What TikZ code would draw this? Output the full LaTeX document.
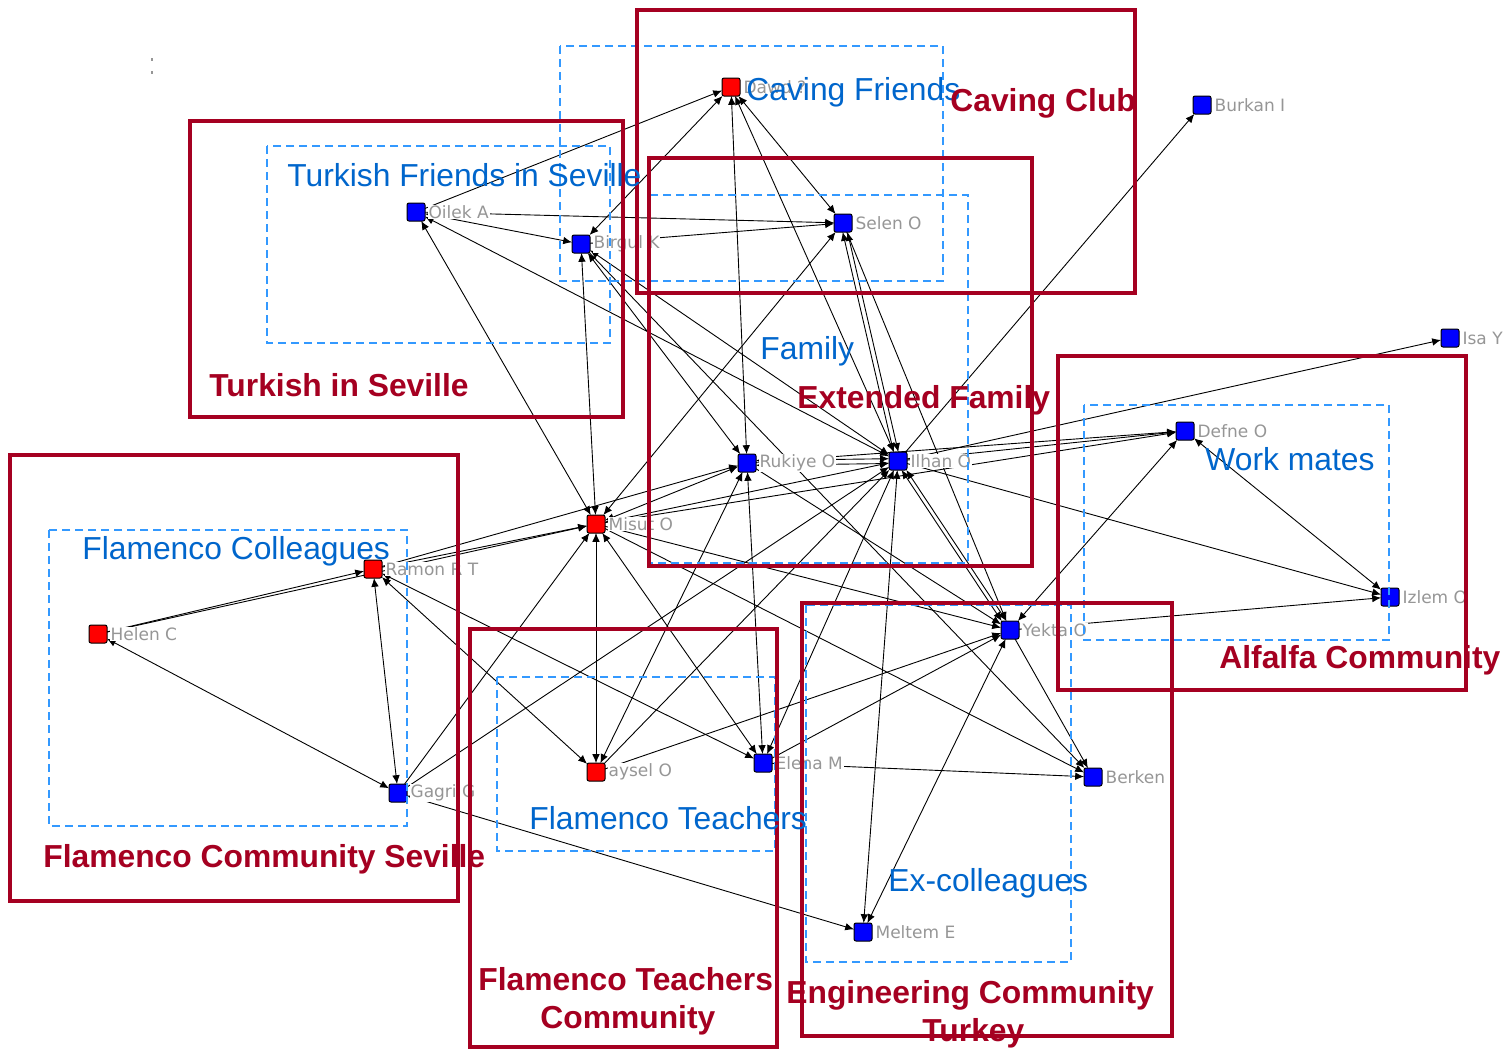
\documentclass[tikz,border=0pt]{standalone}
\usepackage{fontspec}
\setmainfont{Liberation Sans}
\newfontfamily\nlfont{DejaVu Sans}
\usetikzlibrary{arrows.meta}
\definecolor{crimson}{RGB}{165,0,33}
\definecolor{sky}{RGB}{51,153,255}
\definecolor{grplab}{RGB}{0,102,204}
\definecolor{nlgray}{RGB}{150,150,150}
\pgfdeclarelayer{paper}
\pgfdeclarelayer{edges}
\pgfdeclarelayer{frames}
\pgfsetlayers{paper,edges,main,frames}
\tikzset{
  actor/.style={draw=black, line width=0.5pt, rounded corners=1pt, minimum size=9pt, inner sep=0pt, outer sep=0pt},
  fem/.style={actor, fill=red},
  mal/.style={actor, fill=blue},
  nl/.style={font=\nlfont\fontsize{8.5}{9}\selectfont, text=nlgray, fill=white, inner sep=0.4pt, label distance=1.2pt},
  tip/.tip={Latex[length=4.4pt,width=3.8pt]},
  one/.style={line width=0.45pt, -tip},
  two/.style={line width=0.45pt, tip-tip},
  frame/.style={draw=crimson, line width=1.75pt},
  grp/.style={draw=sky, line width=0.75pt, dash pattern=on 4pt off 2.5pt},
  ftxt/.style={font=\bfseries\fontsize{15.9}{18}\selectfont, text=crimson, anchor=base west, inner sep=0pt},
  gtxt/.style={font=\fontsize{15.9}{18}\selectfont, text=grplab, anchor=base west, inner sep=0pt},
}
\begin{document}
\begin{tikzpicture}[x=0.5pt, y=-0.5pt]
\useasboundingbox (0,0) rectangle (1512,1049);
\begin{pgfonlayer}{paper}
\fill[white] (0,0) rectangle (1512,1049);
\end{pgfonlayer}

% actors
\node[fem, label={[nl]0:Dawd ?}] (da) at (731,87) {};
\node[mal, label={[nl]0:Burkan I}] (bu) at (1202,105) {};
\node[mal, label={[nl]0:Oilek A}] (oi) at (416,212) {};
\node[mal, label={[nl]0:Selen O}] (se) at (843,223) {};
\node[mal, label={[nl]0:Birgul K}] (bi) at (581,244) {};
\node[mal, label={[nl]0:Isa Y}] (is) at (1450,338) {};
\node[mal, label={[nl]0:Defne O}] (de) at (1185,431) {};
\node[mal, label={[nl]0:Rukiye O}] (ru) at (747,463) {};
\node[mal, label={[nl]0:Ilhan O}] (il) at (898,461) {};
\node[fem, label={[nl]0:Misut O}] (mi) at (596,524) {};
\node[fem, label={[nl]0:Ramon R T}] (ra) at (373,569) {};
\node[mal, label={[nl]0:Izlem O}] (iz) at (1390,597) {};
\node[mal, label={[nl]0:Yekta O}] (ye) at (1010,630) {};
\node[fem, label={[nl]0:Helen C}] (he) at (98,634) {};
\node[mal, label={[nl]0:Elena M}] (el) at (763,763) {};
\node[fem, label={[nl]0:aysel O}] (ay) at (596,772) {};
\node[mal, label={[nl]0:Berken}] (be) at (1093,777) {};
\node[mal, label={[nl]0:Gagri G}] (ga) at (398,793) {};
\node[mal, label={[nl]0:Meltem E}] (me) at (863,932) {};

% stray mark
\fill[nlgray] (151,58) rectangle (153,61);
\fill[nlgray] (151,71) rectangle (153,74);

\begin{pgfonlayer}{edges}
\draw[one] (oi) -- (da);
\draw[one] (oi) -- (se);
\draw[two] (oi) -- (bi);
\draw[two] (oi) -- (il);
\draw[two] (oi) -- (mi);
\draw[one] (bi) -- (se);
\draw[two] (bi) -- (da);
\draw[two] (bi) -- (mi);
\draw[two] (bi) -- (ru);
\draw[two] (bi) -- (il);
\draw[one] (bi) -- (be);
\draw[two] (da) -- (se);
\draw[two] (da) -- (ru);
\draw[two] (da) -- (il);
\draw[two] (se) -- (mi);
\draw[two, transform canvas={xshift=-1.2pt}] (se) -- (il);
\draw[two, transform canvas={xshift=1.2pt}] (se) -- (il);
\draw[one] (se) -- (ye);
\draw[one] (il) -- (bu);
\draw[one] (il) -- (is);
\draw[one] (il) -- (de);
\draw[one] (ru) -- (de);
\draw[one] (mi) -- (de);
\draw[two, transform canvas={yshift=1.2pt}] (ru) -- (il);
\draw[two, transform canvas={yshift=-1.2pt}] (ru) -- (il);
\draw[two] (mi) -- (ru);
\draw[one] (ra) -- (ru);
\draw[two] (mi) -- (il);
\draw[one] (ra) -- (mi);
\draw[one] (he) -- (mi);
\draw[one] (he) -- (ra);
\draw[two] (he) -- (ga);
\draw[two] (ra) -- (ga);
\draw[one] (ga) -- (mi);
\draw[one] (ga) -- (il);
\draw[two] (ga) -- (me);
\draw[two] (ra) -- (el);
\draw[two] (ra) -- (ay);
\draw[two] (mi) -- (ay);
\draw[two] (mi) -- (el);
\draw[one] (mi) -- (ye);
\draw[one] (mi) -- (be);
\draw[two] (ru) -- (el);
\draw[two] (ru) -- (ay);
\draw[one] (ru) -- (ye);
\draw[two, transform canvas={xshift=-1.2pt}] (il) -- (ye);
\draw[two, transform canvas={xshift=1.2pt}] (il) -- (ye);
\draw[one] (il) -- (iz);
\draw[two] (il) -- (me);
\draw[two] (el) -- (il);
\draw[one] (el) -- (ye);
\draw[one] (el) -- (be);
\draw[one] (ay) -- (ye);
\draw[one] (ay) -- (il);
\draw[one] (ye) -- (be);
\draw[two] (ye) -- (me);
\draw[two] (ye) -- (de);
\draw[one] (ye) -- (iz);
\draw[two] (de) -- (iz);
\end{pgfonlayer}

\begin{pgfonlayer}{frames}
% groups
\draw[grp] (560,46) rectangle (943,281);
\draw[grp] (267,146) rectangle (610,343);
\draw[grp] (649,195) rectangle (968,563);
\draw[grp] (1084,405) rectangle (1389,640);
\draw[grp] (49,530) rectangle (407,826);
\draw[grp] (497,677) rectangle (775,851);
\draw[grp] (806,605) rectangle (1071,962);
% communities
\draw[frame] (637,10) rectangle (1135,293);
\draw[frame] (190,121) rectangle (623,417);
\draw[frame] (649,158) rectangle (1032,566);
\draw[frame] (1058,356) rectangle (1466,690);
\draw[frame] (10,455) rectangle (458,901);
\draw[frame] (470,629) rectangle (777,1047);
\draw[frame] (802,603) rectangle (1172,1036);

\node[gtxt] (gcav) at (746,100) {Caving Friends};
\node[gtxt] (gtfs) at (287,186) {Turkish Friends in Seville};
\node[gtxt] (gfam) at (760,359) {Family};
\node[gtxt] (gwrk) at (1205,470) {Work mates};
\node[gtxt] (gflc) at (82,559) {Flamenco Colleagues};
\node[gtxt] (gflt) at (529,829) {Flamenco Teachers};
\node[gtxt] (gexc) at (888,891) {Ex-colleagues};

\node[ftxt] (ccav) at (950,112) {Caving Club};
\node[ftxt] (ctis) at (209,396) {Turkish in Seville};
\node[ftxt] (cext) at (797,408) {Extended Family};
\node[ftxt] (calf) at (1219,668) {Alfalfa Community};
\node[ftxt] (cfcs) at (43,867) {Flamenco Community Seville};
\node[ftxt] (cftc1) at (478,990) {Flamenco Teachers};
\node[ftxt] (cftc2) at (540,1028) {Community};
\node[ftxt] (ceng1) at (786,1003) {Engineering Community};
\node[ftxt] (ceng2) at (922,1041) {Turkey};
\end{pgfonlayer}
\end{tikzpicture}
\end{document}
